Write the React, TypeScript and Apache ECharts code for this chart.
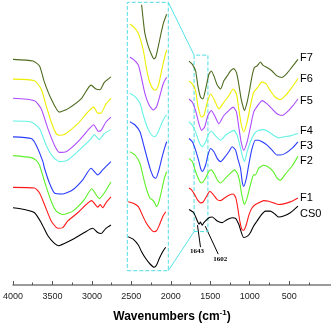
import React, { useEffect, useRef } from 'react';
import * as echarts from 'echarts';

// Spectra names and colours (bottom to top)
const names = ['CS0', 'F1', 'F2', 'F3', 'F4', 'F5', 'F6', 'F7'];
const colors = ['#000000', '#ff1a1a', '#5ef02a', '#2a3cff', '#66f2e6', '#ad4dff', '#eeee00', '#4f6b1f'];

// Axis ticks (cm-1)
const majorTicks = [4000, 3500, 3000, 2500, 2000, 1500, 1000, 500];
const minorTicks = [3750, 3250, 2750, 2250, 1750, 1250, 750, 250];

// Zoomed window (cm-1) and the highlighted transmittance range in the main plot
const zoomWindow = [1530, 1705];
const boxRange = [54, 232.3];
const insetRange = [17.3, 285.7];

// Left part (4000-2760 cm-1): [wavenumber, transmittance a.u.]
const cs0Left = [[4000, 78], [3854, 76.3], [3727, 73], [3643, 63], [3558, 49.7], [3475, 42], [3424, 39.7], [3349, 42], [3222, 47], [3096, 53], [2990, 57.3], [2927, 53], [2885, 52], [2822, 57.3], [2759, 60.7]];
const f1Left = [[4000, 98.7], [3727, 98], [3664, 93], [3601, 81.3], [3516, 64.7], [3432, 57.3], [3369, 58], [3306, 64.7], [3179, 73], [3003, 85.3], [2927, 78.7], [2894, 81.3], [2864, 78], [2822, 83], [2759, 89]];
const f2Left = [[4000, 130.7], [3769, 128.7], [3706, 126], [3664, 121], [3590, 102], [3516, 84.7], [3453, 74.7], [3369, 71.3], [3242, 74.7], [3096, 86.3], [3003, 97.3], [2907, 87.3], [2843, 93], [2759, 104]];
const f3Left = [[4000, 149.7], [3769, 148], [3706, 141.3], [3621, 124.7], [3601, 118], [3538, 103], [3475, 93], [3369, 92], [3242, 96.3], [3116, 106.3], [3011, 118], [2927, 111.3], [2864, 116.3], [2759, 124.7]];
const f4Left = [[4000, 165.7], [3769, 164.7], [3664, 158], [3580, 141.3], [3495, 129.7], [3412, 124.7], [3306, 126.3], [3138, 138], [3011, 148], [2970, 152], [2907, 147], [2843, 153], [2759, 157]];
const f5Left = [[4000, 188.7], [3727, 186.3], [3643, 178], [3558, 158], [3475, 141.3], [3412, 134], [3327, 134.7], [3179, 144.7], [3033, 158], [2977, 162], [2919, 155.3], [2885, 156], [2822, 164.7], [2759, 169.7]];
const f6Left = [[4000, 208], [3727, 206.3], [3643, 198], [3580, 181.3], [3516, 164.7], [3453, 153], [3412, 151.3], [3349, 152], [3179, 163], [3053, 174.7], [2977, 179.7], [2927, 173.7], [2885, 173.7], [2822, 183], [2759, 188.7]];
const f7Left = [[4000, 228], [3747, 226.3], [3664, 221.3], [3601, 204.7], [3516, 188], [3412, 174.7], [3306, 178], [3138, 188], [3011, 202], [2948, 198], [2898, 197.3], [2843, 204.7], [2759, 210.3]];

// Right part (1770-390 cm-1)
const cs0Right = [[1770, 76.3], [1710, 73], [1664, 64.7], [1643, 61.5], [1625, 63.5], [1602, 60.5], [1581, 63], [1518, 68], [1475, 68.7], [1412, 64.7], [1349, 63], [1285, 66.3], [1222, 68], [1180, 67.3], [1139, 61.3], [1076, 48], [1025, 49.7], [991, 53], [950, 59.7], [907, 64.7], [865, 69.7], [802, 74.7], [739, 74.7], [675, 71.3], [634, 68.7], [570, 69.7], [486, 73], [389, 79.7]];
const f1Right = [[1770, 98], [1740, 96.3], [1698, 91.3], [1664, 86.3], [1623, 83], [1588, 84], [1547, 89.7], [1505, 94.7], [1462, 91.3], [1412, 86.3], [1370, 85.3], [1319, 88], [1265, 90.7], [1210, 92], [1176, 88], [1152, 78], [1126, 64.7], [1101, 56.3], [1076, 55.3], [1042, 61.3], [1008, 71.3], [970, 78], [928, 81.3], [886, 83], [823, 85.3], [760, 84.7], [697, 83], [634, 81.3], [570, 82], [486, 84], [389, 88]];
const f2Right = [[1770, 128], [1727, 124.7], [1686, 114.7], [1644, 106.3], [1614, 103], [1572, 106.3], [1518, 114.7], [1487, 116.3], [1454, 113], [1412, 106.3], [1370, 103], [1307, 108], [1244, 113], [1193, 116.3], [1152, 112], [1126, 104], [1109, 94.7], [1083, 84.7], [1067, 81.3], [1033, 88], [991, 101.3], [950, 111.3], [928, 111.3], [886, 118], [823, 121], [760, 119], [697, 114], [654, 108], [612, 106], [549, 112], [465, 120], [389, 130]];
const f3Right = [[1770, 148], [1727, 144.7], [1686, 136.3], [1644, 124.7], [1623, 118], [1601, 114.7], [1559, 121.3], [1530, 131.3], [1496, 138], [1454, 134.7], [1412, 128], [1370, 124.7], [1328, 128], [1265, 134.7], [1222, 139.7], [1180, 136.3], [1152, 128], [1117, 118], [1096, 104.7], [1076, 99.7], [1042, 108], [1013, 121.3], [970, 138], [928, 146.3], [886, 146.3], [843, 144.7], [780, 141.3], [717, 136.3], [654, 131.3], [612, 131.3], [549, 133], [465, 138], [389, 144.7]];
const f4Right = [[1770, 164.7], [1727, 161.3], [1686, 154.7], [1644, 144.7], [1601, 139.7], [1559, 144.7], [1518, 153], [1487, 155.3], [1433, 150.7], [1370, 146.3], [1307, 151.3], [1244, 154.7], [1202, 156.3], [1159, 151.3], [1126, 141.3], [1096, 131.3], [1067, 124.7], [1033, 134.7], [991, 144.7], [941, 153], [886, 156.3], [823, 157], [760, 154.7], [697, 151.3], [634, 148.7], [570, 149.7], [486, 150.7], [389, 153]];
const f5Right = [[1770, 188], [1727, 184.7], [1686, 176.3], [1644, 163], [1610, 156.3], [1572, 159.7], [1530, 171.3], [1487, 176.3], [1446, 171.3], [1391, 163], [1328, 171.3], [1265, 176.3], [1210, 179.7], [1168, 174.7], [1139, 159.7], [1109, 144.7], [1076, 136.3], [1033, 144.7], [991, 159.7], [950, 174.7], [899, 181.3], [843, 186.3], [780, 183], [717, 178], [654, 173], [591, 171.3], [528, 174.7], [452, 181.3], [389, 188]];
const f6Right = [[1770, 206.3], [1727, 203], [1686, 196.3], [1657, 181.3], [1614, 169.7], [1581, 171.3], [1538, 184.7], [1496, 193], [1454, 188], [1391, 178], [1328, 184.7], [1265, 191.3], [1210, 198], [1168, 193], [1139, 178], [1109, 163], [1076, 154.7], [1033, 164.7], [991, 181.3], [950, 194.7], [899, 199.7], [843, 205.3], [789, 203], [739, 196.3], [675, 189.7], [612, 187.3], [549, 191.3], [465, 199.7], [389, 208.7]];
const f7Right = [[1770, 226.3], [1727, 223], [1686, 216.3], [1657, 201.3], [1623, 189.7], [1594, 188], [1559, 198], [1518, 212.7], [1487, 216.3], [1454, 211.3], [1412, 202], [1370, 198], [1328, 206.3], [1285, 211.3], [1244, 216.3], [1202, 218.7], [1168, 214.7], [1139, 203], [1109, 188], [1083, 179.7], [1067, 176.3], [1033, 184.7], [1000, 198], [970, 211.3], [941, 219.7], [907, 221.3], [865, 225.3], [831, 222], [780, 219.7], [717, 216.3], [654, 211.3], [591, 209.7], [549, 212], [486, 218], [389, 228]];

// Magnified inset (1705-1530 cm-1)
const cs0Inset = [[1701, 51.3], [1679, 48.7], [1658, 43], [1644, 36.3], [1627, 29.7], [1608, 24], [1591, 20.7], [1580, 23], [1568, 29.7], [1554, 36.3], [1541, 40.7]];
const f1Inset = [[1701, 86.3], [1679, 84.7], [1658, 81.3], [1644, 74.7], [1627, 66.3], [1608, 59.7], [1591, 56.3], [1580, 57.3], [1568, 63], [1554, 71.3], [1541, 76.3]];
const f2Inset = [[1694, 136.3], [1672, 133], [1651, 124.7], [1637, 111.3], [1622, 98], [1608, 89.7], [1597, 88], [1587, 84.7], [1580, 81.3], [1570, 86.3], [1558, 98], [1547, 109.7], [1537, 116.3]];
const f3Inset = [[1694, 166.3], [1672, 163], [1651, 156.3], [1637, 144.7], [1622, 131.3], [1608, 119.7], [1594, 111.3], [1583, 109.7], [1570, 118], [1556, 131.3], [1544, 141.3], [1537, 146.3]];
const f4Inset = [[1694, 194.7], [1672, 191.3], [1651, 184.7], [1637, 173], [1618, 159.7], [1601, 153], [1587, 151.3], [1573, 156.3], [1558, 164.7], [1544, 171.3], [1537, 173]];
const f5Inset = [[1694, 230.7], [1679, 228.7], [1658, 223], [1644, 209.7], [1630, 194.7], [1612, 183], [1594, 178], [1580, 181.3], [1565, 193], [1551, 204.7], [1537, 210.7]];
const f6Inset = [[1694, 264], [1679, 261.3], [1658, 254.7], [1637, 238], [1622, 218], [1608, 204.7], [1594, 198.7], [1583, 198], [1570, 204.7], [1558, 218], [1547, 229.7], [1537, 238]];
const f7Inset = [[1644, 283.3], [1637, 268], [1630, 254.7], [1615, 241.3], [1601, 233], [1591, 229], [1583, 231.3], [1573, 241.3], [1561, 254.7], [1551, 264.7], [1537, 273.7]];

const leftData = [cs0Left, f1Left, f2Left, f3Left, f4Left, f5Left, f6Left, f7Left];
const rightData = [cs0Right, f1Right, f2Right, f3Right, f4Right, f5Right, f6Right, f7Right];
const insetData = [cs0Inset, f1Inset, f2Inset, f3Inset, f4Inset, f5Inset, f6Inset, f7Inset];

// Annotated bands of CS0
const bandLabels = ['1643', '1602'];
const bandWavenumbers = [1643, 1602];

// label vertical nudges (px) for the series names
const labelDy = [7, -1, 4, 3, -4, 1, 0, -2];

function interp(data: number[][], wn: number): number {
  for (let i = 0; i < data.length - 1; i++) {
    const a = data[i], b = data[i + 1];
    if ((wn <= a[0] && wn >= b[0]) || (wn >= a[0] && wn <= b[0])) {
      const t = (wn - a[0]) / (b[0] - a[0]);
      return a[1] + t * (b[1] - a[1]);
    }
  }
  return data[0][1];
}

export default function App() {
  const ref = useRef<HTMLDivElement>(null);
  useEffect(() => {
    const chart = echarts.init(ref.current!, null, { renderer: 'svg' });
    const series: any[] = [];
    names.forEach((name, i) => {
      const base = {
        type: 'line',
        name,
        symbol: 'none',
        showSymbol: false,
        smooth: 0.2,
        silent: true,
        lineStyle: { color: colors[i], width: 1.1 },
        itemStyle: { color: colors[i] },
        z: 3,
      };
      series.push({ ...base, id: name + '-L', xAxisIndex: 0, yAxisIndex: 0, data: leftData[i] });
      series.push({ ...base, id: name + '-R', xAxisIndex: 0, yAxisIndex: 0, data: rightData[i] });
      series.push({ ...base, id: name + '-Z', xAxisIndex: 2, yAxisIndex: 1, data: insetData[i] });
    });
    const boxStyle = { color: 'rgba(0,0,0,0)', borderColor: '#4fdde3', borderWidth: 1, borderType: 'dashed' };
    series[1].markArea = {
      silent: true,
      label: { show: false },
      itemStyle: boxStyle,
      data: [[{ coord: [zoomWindow[1], boxRange[0]] }, { coord: [zoomWindow[0], boxRange[1]] }]],
    };
    series[2].markArea = {
      silent: true,
      label: { show: false },
      itemStyle: boxStyle,
      data: [[{ coord: [zoomWindow[1], insetRange[0]] }, { coord: [zoomWindow[0], insetRange[1]] }]],
    };

    const axisFont = 'Liberation Sans';
    chart.setOption({
      animation: false,
      grid: [
        { left: 11.7, right: 0, top: 0, bottom: 39 },
        { left: 127.3, width: 41, top: 2.3, height: 268.4 },
      ],
      xAxis: [
        {
          type: 'value', gridIndex: 0, inverse: true, min: -30, max: 4000, position: 'bottom',
          axisLine: { show: true, lineStyle: { color: '#7a7a7a', width: 1.5 } },
          axisTick: { show: true, inside: true, length: 4, customValues: majorTicks, lineStyle: { color: '#555', width: 1 } },
          axisLabel: { show: true, customValues: majorTicks, formatter: (v: number) => String(v), margin: 6, fontSize: 9, fontFamily: axisFont, color: '#222' },
          splitLine: { show: false },
          name: '{b|Wavenumbers (cm}{s|-1}{b|)}',
          nameLocation: 'middle',
          nameGap: 23,
          nameTextStyle: {
            rich: {
              b: { fontSize: 12, fontWeight: 'bold', fontFamily: axisFont, color: '#000', lineHeight: 16 },
              s: { fontSize: 8, fontWeight: 'bold', fontFamily: axisFont, color: '#000', verticalAlign: 'top', lineHeight: 16 },
            },
          },
        },
        {
          type: 'value', gridIndex: 0, inverse: true, min: -30, max: 4000, position: 'bottom',
          axisLine: { show: false },
          axisTick: { show: true, inside: true, length: 2.5, customValues: minorTicks, lineStyle: { color: '#555', width: 1 } },
          axisLabel: { show: false },
          splitLine: { show: false },
        },
        {
          type: 'value', gridIndex: 1, inverse: true, min: zoomWindow[0], max: zoomWindow[1], show: false,
          splitLine: { show: false },
        },
      ],
      yAxis: [
        { type: 'value', gridIndex: 0, min: 0, max: 288, show: false, splitLine: { show: false } },
        { type: 'value', gridIndex: 1, min: insetRange[0], max: insetRange[1], show: false, splitLine: { show: false } },
      ],
      series,
    });

    const toPx = (p: number[]) => chart.convertToPixel({ xAxisIndex: 0, yAxisIndex: 0 }, p) as number[];
    const toPxZ = (p: number[]) => chart.convertToPixel({ xAxisIndex: 2, yAxisIndex: 1 }, p) as number[];
    const graphics: any[] = [];
    const cyan = '#55e3e8';
    const insTop = toPxZ([zoomWindow[0], insetRange[1]]);
    const insBot = toPxZ([zoomWindow[0], insetRange[0]]);
    const boxTop = toPx([zoomWindow[1], boxRange[1]]);
    const boxBot = toPx([zoomWindow[1], boxRange[0]]);
    graphics.push({ type: 'line', silent: true, z: 1, shape: { x1: insTop[0], y1: insTop[1], x2: boxTop[0], y2: boxTop[1] }, style: { stroke: cyan, lineWidth: 1 } });
    graphics.push({ type: 'line', silent: true, z: 1, shape: { x1: insBot[0], y1: insBot[1], x2: boxBot[0], y2: boxBot[1] }, style: { stroke: cyan, lineWidth: 1 } });

    names.forEach((name, i) => {
      const d = rightData[i];
      const p = toPx(d[d.length - 1]);
      graphics.push({
        type: 'text', silent: true, x: p[0] + 2, y: p[1] + labelDy[i],
        style: { text: name, fontSize: 11, fontFamily: axisFont, fill: '#000', align: 'left', verticalAlign: 'middle' },
      });
    });

    const annOffsets = [
      { sx: -1.5, sy: 1, ex: 1.5, ey: 23, tx: -2, ty: 27 },
      { sx: 3, sy: 1, ex: 16, ey: 29, tx: 18, ty: 34 },
    ];
    bandWavenumbers.forEach((wn, k) => {
      const p = toPx([wn, interp(cs0Right, wn)]);
      const o = annOffsets[k];
      graphics.push({ type: 'line', silent: true, shape: { x1: p[0] + o.sx, y1: p[1] + o.sy, x2: p[0] + o.ex, y2: p[1] + o.ey }, style: { stroke: '#000', lineWidth: 1 } });
      graphics.push({
        type: 'text', silent: true, x: p[0] + o.tx, y: p[1] + o.ty,
        style: { text: bandLabels[k], fontSize: 7, fontWeight: 'bold', fontFamily: 'Liberation Serif', fill: '#000', align: 'center', verticalAlign: 'middle' },
      });
    });

    chart.setOption({ graphic: graphics });
    return () => chart.dispose();
  }, []);
  return <div ref={ref} style={{ position: 'fixed', left: 0, top: 0, width: 331, height: 327 }} />;
}
